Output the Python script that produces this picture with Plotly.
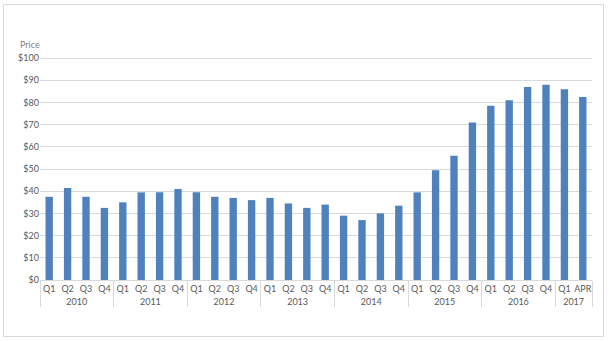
import plotly.graph_objects as go

years = ["2010"] * 4 + ["2011"] * 4 + ["2012"] * 4 + ["2013"] * 4 + ["2014"] * 4 + ["2015"] * 4 + ["2016"] * 4 + ["2017"] * 2
quarters = ["Q1", "Q2", "Q3", "Q4"] * 7 + ["Q1", "APR"]
prices = [37.5, 41.5, 37.5, 32.5,
          35, 39.5, 39.5, 41,
          39.5, 37.5, 37, 36,
          37, 34.5, 32.5, 34,
          29, 27, 30, 33.5,
          39.5, 49.5, 56, 71,
          78.5, 81, 87, 88,
          86, 82.5]
y_ticks = list(range(0, 101, 10))
y_labels = [f"${v}" for v in y_ticks]

fig = go.Figure(go.Bar(x=[years, quarters], y=prices, marker_color="#4f81bd",
                       marker_line_width=0))

L, R, T, B = 40, 17, 57, 61
W, H = 609, 341
pw, ph = W - L - R, H - T - B

def px(x):
    return (x - L) / pw

def py(y):
    return (H - B - y) / ph

fig.update_layout(
    width=W, height=H,
    margin=dict(l=L, r=R, t=T, b=B),
    paper_bgcolor="white", plot_bgcolor="white",
    bargap=0.6,
    showlegend=False,
    font=dict(family="Lato, Calibri, sans-serif", size=9, color="#595959"),
    xaxis=dict(type="multicategory", showline=True, linecolor="#d9d9d9", linewidth=1,
               showgrid=False, ticks="", showdividers=True, dividercolor="#d9d9d9",
               dividerwidth=1, tickangle=0, tickfont=dict(size=9, color="#595959")),
    yaxis=dict(range=[0, 100.5], tickvals=y_ticks, ticktext=y_labels, showgrid=True,
               gridcolor="#d9d9d9", gridwidth=1, zeroline=False, showline=False,
               ticks="", tickfont=dict(size=9, color="#595959")),
    shapes=[dict(type="rect", xref="paper", yref="paper",
                 x0=px(3.5), x1=px(603.5), y0=py(336.5), y1=py(4.5),
                 line=dict(color="#d9d9d9", width=1), fillcolor="rgba(0,0,0,0)", layer="below")],
    annotations=[dict(text="Price", xref="paper", yref="paper", x=px(18), y=py(44),
                      xanchor="left", yanchor="middle", showarrow=False,
                      font=dict(size=9, color="#7f7f7f"))],
)

fig.write_html("out.html")
